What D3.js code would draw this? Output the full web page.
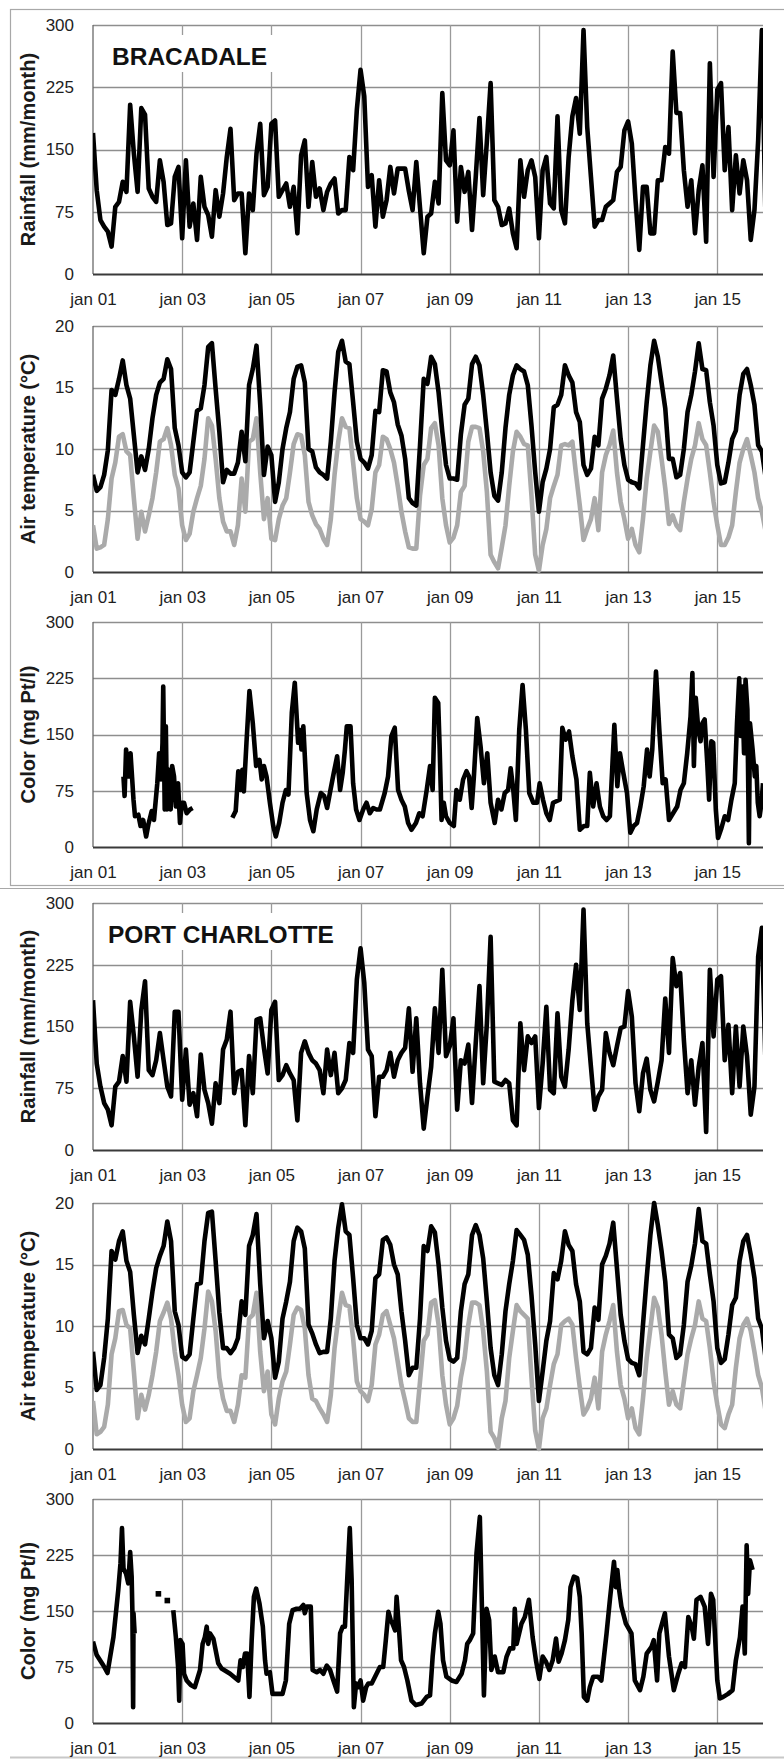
<!DOCTYPE html>
<html><head><meta charset="utf-8">
<script src="https://cdn.jsdelivr.net/npm/d3@7"></script>
<style>
body{margin:0;background:#fff}
svg{display:block}
text{font-family:"Liberation Sans",Arial,Helvetica,sans-serif;fill:#1e1e1e}
</style>
</head><body>
<svg id="chart" width="784" height="1760"></svg>
<script>
// ---------- DATA ----------
// x ticks: month index from jan 2001
const tickMonths = [0, 24, 48, 72, 96, 120, 144, 168];
const tickLabels = ["jan 01", "jan 03", "jan 05", "jan 07", "jan 09", "jan 11", "jan 13", "jan 15"];
const rainTicks = [0, 75, 150, 225, 300];
const tempTicks = [0, 5, 10, 15, 20];
const colorTicks = [0, 75, 150, 225, 300];
const stationNames = ["BRACADALE", "PORT CHARLOTTE"];
const axisTitles = ["Rainfall (mm/month)", "Air temperature (°C)", "Color (mg Pt/l)"];

// Bracadale monthly rainfall (mm/month), jan 2001 ->
const rainBracadale = [
  170,101,65,57,51,33,81,87,111,99,204,145,
  99,200,192,103,93,87,137,111,59,61,117,129,
  43,137,57,85,41,117,81,71,45,101,69,97,
  141,175,89,97,97,25,97,77,145,181,95,105,
  181,185,93,101,109,81,105,49,143,161,81,135,
  93,103,77,99,109,115,73,77,77,141,125,198,
  246,214,105,119,57,113,69,89,129,97,127,127,
  127,100,77,135,80,25,69,73,111,85,218,137,
  131,173,63,129,99,123,53,117,188,95,160,230,
  89,81,59,61,79,49,31,137,93,125,137,117,
  43,125,141,85,79,190,77,61,141,190,212,169,
  294,177,117,57,65,65,81,85,89,123,129,173,
  184,157,89,29,105,105,49,49,113,113,153,145,
  268,194,194,125,81,113,49,101,131,39,254,117,
  222,230,125,177,77,143,97,137,113,41,77,161,
  294,60
];
// Bracadale air temperature, monthly max (black) and min (grey)
const tmaxBracadale = [
  7.9,6.6,6.9,7.9,9.9,14.8,14.4,15.7,17.2,15.2,14.1,11.1,
  8.1,9.4,8.3,10.0,12.5,14.4,15.4,15.7,17.3,16.5,11.7,10.3,
  8.1,7.7,8.1,10.6,13.1,13.3,15.2,18.3,18.6,14.9,11.4,7.3,
  8.3,8.0,8.0,8.9,11.4,9.0,15.2,16.5,18.4,13.6,7.9,10.2,
  9.5,5.7,7.3,10.0,11.7,13.0,15.7,16.7,16.8,15.4,10.0,9.8,
  8.5,8.1,7.9,7.6,10.6,14.6,17.9,18.8,17.1,16.9,13.8,10.6,
  9.2,8.9,8.4,9.5,13.1,13.0,16.4,16.3,14.6,13.8,12.0,11.1,
  9.2,6.0,5.6,5.4,10.3,15.7,15.3,17.5,16.9,14.6,11.4,8.7,
  7.6,7.6,7.5,11.2,13.6,14.1,16.9,17.5,16.8,14.4,11.4,8.1,
  6.2,5.8,8.1,11.7,14.4,16.0,16.8,16.5,16.3,15.2,11.9,8.1,
  4.9,7.3,8.4,10.0,13.4,13.6,14.4,16.8,16.0,15.4,13.0,12.2,
  8.7,7.9,8.4,11.0,10.3,14.1,14.9,16.0,17.6,14.1,10.8,8.7,
  7.5,7.3,7.2,6.8,10.3,13.8,16.8,18.8,17.5,15.4,13.3,9.2,
  9.2,7.7,7.9,10.0,13.0,14.4,16.3,18.6,16.5,16.4,13.8,11.9,
  8.7,7.2,7.3,8.9,10.8,11.5,14.4,16.1,16.5,15.2,13.6,10.3,
  9.8,7.7
];
const tminBracadale = [
  3.8,1.9,2.0,2.2,4.3,7.6,8.9,11.0,11.2,9.8,9.5,6.0,
  2.7,4.9,3.3,4.6,6.0,8.1,10.6,10.8,11.7,10.3,7.9,6.8,
  3.8,2.6,3.1,4.9,6.0,7.0,9.2,12.5,11.9,9.2,6.0,4.1,
  3.3,3.3,2.2,3.8,7.6,4.9,10.6,10.8,12.5,8.1,4.3,6.0,
  2.7,2.6,4.3,5.4,6.0,8.1,10.4,11.2,11.1,9.5,5.7,4.6,
  3.9,3.5,2.7,2.2,4.3,7.9,10.6,12.5,11.8,11.7,8.9,6.0,
  4.3,4.1,3.8,5.1,8.1,8.7,11.0,10.8,10.0,8.9,7.0,4.9,
  3.3,2.0,1.9,1.9,6.2,8.7,9.2,11.7,12.1,10.3,6.0,3.8,
  2.4,2.8,3.8,6.5,7.0,10.6,11.8,11.8,11.7,9.8,6.5,1.4,
  0.8,0.3,2.0,3.8,7.0,9.8,11.4,11.0,10.4,10.3,6.2,1.4,
  0.1,2.2,3.5,6.0,7.0,7.9,10.3,10.4,10.3,10.6,7.9,5.4,
  2.6,3.5,4.3,6.0,3.4,8.1,9.5,10.3,11.5,8.1,5.7,4.3,
  2.7,3.5,2.2,1.6,4.3,7.6,9.8,11.9,11.4,9.2,6.8,3.9,
  4.6,3.8,3.4,5.7,7.6,9.2,10.3,12.1,10.8,10.3,8.1,5.7,
  3.8,2.2,2.2,2.8,3.8,6.5,8.9,10.0,10.8,9.5,8.1,6.0,
  4.9,3.3
];
// Bracadale water colour: sample time (months since jan 2001) and value (mg Pt/l); null = gap
const colorBracadaleMonth = [
  8.2,8.5,8.9,9.5,10.1,10.9,11.3,12.2,12.8,13.5,14.3,14.9,15.8,16.4,17.3,17.8,18.3,18.7,18.9,19.3,19.6,19.9,
  20.4,20.9,21.3,21.8,22.3,22.9,23.4,23.9,24.5,25.2,26.1,26.8,
  32,
  37.5,38.4,39.1,39.7,40.2,40.6,41.3,42.1,43.0,43.9,44.8,45.4,46.0,46.7,47.6,48.5,49.2,50.1,51.0,51.9,52.6,
  53.5,54.3,55.2,55.7,56.1,56.6,57.5,58.4,59.3,60.2,61.3,62.2,63.0,63.9,64.8,65.7,66.5,67.2,67.8,68.3,69.3,
  70.0,70.8,71.7,72.7,73.6,74.5,75.4,76.3,77.2,78.5,79.4,80.3,81.2,82.1,83.0,83.9,84.8,85.7,86.9,87.8,88.7,
  89.8,90.7,91.4,92.0,92.9,93.3,93.8,94.4,95.0,96.0,97.1,97.8,98.7,99.6,100.5,101.2,101.9,102.5,103.4,104.3,
  105.2,106.1,107.0,108.1,109.0,109.9,110.8,111.7,112.4,113.1,113.8,114.7,115.6,116.5,117.4,118.5,119.5,
  120.2,121.1,122.0,122.9,123.8,124.7,125.6,126.3,127.2,128.1,129.0,130.1,131.0,132.1,133.0,133.7,134.6,
  135.5,136.4,137.3,138.2,139.1,140.3,141.1,141.8,142.7,143.7,144.6,145.5,146.4,147.3,148.2,149.1,149.8,
  150.5,151.5,152.4,153.3,154.1,155.0,156.1,157.2,158.1,159.0,159.9,160.8,161.3,161.7,162.2,162.9,163.5,
  164.0,164.6,165.3,165.8,166.4,166.9,167.6,168.2,169.1,170.0,170.9,171.8,172.7,173.3,173.9,174.3,174.7,
  175.2,175.6,176.1,176.5,176.8,177.5,178.1,178.5,178.9,179.4,179.9,180.3
];
const colorBracadaleValue = [
  94,68,130,94,125,63,41,43,28,36,14,30,48,36,85,125,90,139,214,50,161,50,
  103,50,108,94,54,85,32,59,59,45,50,52,
  null,
  39,48,101,76,103,74,139,208,165,108,116,90,108,94,59,28,14,32,59,76,70,
  179,219,139,156,130,161,72,36,21,50,72,68,52,76,99,121,76,99,130,161,161,
  85,50,36,50,59,45,52,50,50,72,94,148,159,76,63,54,32,23,32,45,41,
  76,108,76,199,192,130,36,59,41,32,28,76,63,90,101,94,52,94,172,134,
  85,125,59,32,63,50,72,76,105,76,36,156,216,156,72,59,59,
  85,63,45,36,59,61,63,159,143,154,121,90,23,28,28,99,54,
  85,54,41,36,41,163,81,125,99,72,19,28,32,54,81,130,94,
  130,234,156,85,90,36,45,54,76,85,125,174,232,108,199,156,141,
  165,170,112,63,141,139,50,12,25,41,36,63,85,165,225,148,214,
  125,223,183,5,165,130,94,108,59,41,59,85
];

// Port Charlotte monthly rainfall
const rainPortCharlotte = [
  182,105,77,57,49,30,77,83,114,83,180,138,
  89,170,205,97,91,109,142,109,77,65,168,168,
  61,122,55,69,41,116,73,57,32,81,57,122,
  134,168,69,95,97,30,114,69,158,160,124,93,
  170,180,85,91,103,93,85,36,118,132,118,109,
  105,97,69,122,91,118,69,75,85,130,118,207,
  245,203,122,114,41,89,89,97,118,89,109,118,
  124,172,95,160,81,26,65,101,172,118,219,114,
  126,160,49,109,105,128,57,130,199,81,154,259,
  83,81,79,85,81,36,30,154,97,138,130,138,
  51,105,174,73,69,166,89,77,122,182,225,170,
  292,154,101,49,65,73,142,118,103,126,148,150,
  193,162,81,47,93,111,73,59,83,109,184,118,
  233,199,215,134,69,109,55,101,130,22,219,138,
  207,211,109,152,69,150,77,150,114,43,77,235,
  270,100
];
const tmaxPortCharlotte = [
  7.9,4.8,5.2,7.4,10.6,16.1,15.4,16.9,17.7,15.3,14.4,10.9,
  7.8,9.2,8.5,10.6,12.8,14.7,15.7,16.5,18.5,16.9,11.2,10.1,
  7.5,7.3,7.7,10.6,13.4,13.5,16.9,19.2,19.3,15.3,11.1,8.2,
  8.2,7.8,8.2,9.0,12.0,10.9,16.5,17.4,19.1,13.4,9.0,10.4,
  9.0,5.8,7.1,10.6,12.0,13.6,16.9,18.0,17.7,16.3,10.1,9.4,
  8.5,7.8,7.9,7.9,10.6,15.3,18.0,19.9,17.7,17.4,13.9,10.1,
  9.0,9.0,8.5,9.6,13.9,14.2,17.0,17.2,16.6,15.0,14.2,11.2,
  8.8,6.0,6.6,6.6,10.6,16.5,16.1,18.1,17.6,15.0,11.5,8.8,
  7.3,7.1,7.4,11.2,13.4,14.2,17.4,18.2,17.4,15.5,12.0,8.2,
  6.0,5.2,7.7,11.2,13.4,15.3,17.8,17.4,17.0,15.8,12.5,8.5,
  3.9,6.3,8.8,10.4,14.3,13.8,15.3,17.7,16.6,16.1,13.4,12.0,
  7.9,7.7,8.2,11.5,10.5,15.0,15.7,16.7,18.4,14.7,10.9,8.8,
  7.3,7.0,6.9,6.0,10.1,13.9,17.4,20.0,18.2,16.1,13.6,9.3,
  9.0,7.4,7.7,10.1,13.6,14.9,16.7,19.5,16.9,16.7,14.2,12.0,
  8.2,7.0,7.3,9.3,11.7,12.3,15.3,16.9,17.4,15.8,13.9,10.6,
  9.8,7.4
];
const tminPortCharlotte = [
  3.9,1.2,1.4,1.8,3.6,7.7,9.0,11.2,11.3,10.1,9.8,6.3,
  2.5,4.4,3.2,4.4,6.0,7.9,10.4,11.1,11.9,10.6,7.9,6.0,
  3.6,2.2,2.5,4.7,6.0,7.4,9.8,12.8,12.0,9.6,5.8,4.1,
  3.1,3.1,2.2,3.6,6.0,5.8,10.6,10.9,12.7,7.9,4.7,6.3,
  2.8,2.0,4.1,5.5,6.3,8.5,10.9,11.5,11.3,9.8,6.0,4.1,
  3.9,3.3,2.8,2.2,4.4,8.2,10.6,12.7,11.7,11.6,9.0,5.5,
  4.7,4.4,3.9,5.2,8.5,9.3,10.9,11.2,10.1,9.0,7.1,5.2,
  3.9,2.5,2.2,2.2,5.5,8.8,9.3,11.9,12.1,10.1,6.0,3.6,
  2.0,2.5,3.5,5.8,7.4,10.1,11.9,11.9,11.7,9.6,6.3,1.4,
  0.9,0.1,2.5,3.9,7.4,9.6,11.7,11.2,10.9,10.6,5.8,1.5,
  0.0,2.5,3.3,5.2,6.9,7.7,10.1,10.4,10.6,10.1,7.4,5.0,
  2.8,3.3,4.1,5.8,3.3,7.9,9.3,10.4,11.7,7.9,5.2,4.1,
  2.5,3.3,1.7,1.2,4.1,7.4,9.8,12.3,11.5,9.3,6.3,3.6,
  4.7,3.6,3.3,5.5,7.7,9.0,10.1,12.0,10.6,10.4,8.2,5.5,
  3.6,2.0,1.7,2.8,3.6,6.6,9.0,10.1,10.6,9.6,7.9,6.0,
  5.0,3.1
];
const colorPortCharlotteMonth = [
  0,1,2.8,3.9,5.5,6.8,7.4,7.8,8.2,8.9,9.5,10.0,10.4,10.6,10.8,10.9,11.2,
  16,
  21.6,22.3,22.9,23.2,23.5,24.1,24.5,25.2,26.3,27.4,28.8,29.5,30.1,30.6,31.0,31.5,32.4,33.7,34.6,36.9,
  39.1,39.7,40.3,40.9,41.5,42.1,42.7,43.3,43.9,44.8,45.7,46.3,46.7,47.6,48.3,49.4,51.0,51.9,52.8,53.7,
  54.8,55.7,56.6,57.0,57.5,58.6,59.1,60.2,61.1,62.0,62.9,63.8,64.7,65.7,66.5,67.2,67.8,68.4,69.1,69.6,
  70.2,70.8,71.4,72.0,72.7,73.5,74.1,75.0,76.3,77.2,78.1,78.8,79.5,80.1,80.6,81.3,81.7,82.3,82.9,83.7,
  84.6,85.7,86.9,88.4,89.8,90.7,91.4,92.0,92.9,93.5,94.2,95.1,96.5,97.8,99.2,100.1,100.7,101.4,102.3,
  103.2,104.1,105.2,105.9,106.6,107.2,108.1,109.0,110.4,111.3,112.2,113.1,113.5,114.0,115.3,116.2,117.3,
  118.3,119.2,120.1,121.0,121.9,122.8,123.7,124.6,125.3,126.1,127.0,127.9,128.5,129.4,130.3,131.0,131.5,
  132.1,133.0,133.7,134.6,135.9,136.8,138.2,139.1,140.2,140.7,141.1,141.6,142.2,143.4,144.9,145.8,147.2,
  148.1,149.0,150.3,150.9,151.8,152.4,153.9,155.0,156.3,157.5,158.4,159.3,160.2,161.1,161.7,162.4,163.5,
  164.6,165.5,166.3,166.9,168.0,168.7,169.6,170.9,172.1,173.0,174.1,174.8,175.4,175.9,176.3,176.8,177.5
];
const colorPortCharlotteValue = [
  109,91,77,67,115,178,214,261,207,200,187,229,196,150,21,147,120,
  null,
  151,115,75,30,111,106,66,57,51,48,71,106,115,129,106,120,113,80,73,66,
  57,84,75,93,93,35,111,169,180,160,129,84,66,68,39,39,39,57,133,151,
  153,153,158,147,156,156,71,68,71,66,77,71,57,42,120,129,129,191,261,191,
  21,53,48,57,30,48,53,53,66,75,75,111,149,138,133,124,169,129,84,75,
  57,30,24,26,35,37,89,120,149,133,84,62,57,55,66,84,106,111,120,
  227,276,37,153,138,71,89,68,68,89,100,100,153,106,133,142,165,
  115,84,59,89,82,71,84,113,82,93,111,138,182,196,194,169,120,
  35,30,48,62,62,57,120,165,216,182,205,178,156,133,120,57,44,
  62,93,102,111,57,120,147,89,44,66,80,75,142,129,113,165,169,
  156,106,173,165,57,33,35,39,44,84,115,156,93,238,173,218,205
];
// isolated colour samples (plotted as markers only)
const colorPortCharlotteDotMonth = [17.6, 20.0];
const colorPortCharlotteDotValue = [173, 164];

// ---------- DRAWING ----------
const svg = d3.select("#chart");
const x = d3.scaleLinear().domain([0, 180.3]).range([93, 763]);
const FONT = '"Liberation Sans", Arial, Helvetica, sans-serif';

// frames around the two station blocks
svg.append("rect").attr("x", 10.5).attr("y", 9.5).attr("width", 800).attr("height", 876)
  .attr("fill", "none").attr("stroke", "#a8a8a8").attr("stroke-width", 1.2);
svg.append("line").attr("x1", 0).attr("x2", 784).attr("y1", 888.5).attr("y2", 888.5)
  .attr("stroke", "#a8a8a8").attr("stroke-width", 1.2);
svg.append("line").attr("x1", 10).attr("x2", 784).attr("y1", 1757.5).attr("y2", 1757.5)
  .attr("stroke", "#c8c8c8").attr("stroke-width", 2);

const monthly = arr => arr.map((v, i) => ({ m: i, v }));
const paired = (ms, vs) => ms.map((m, i) => ({ m, v: vs[i] }));

const panels = [
  { top: 25, bottom: 274, max: 300, ticks: rainTicks, title: axisTitles[0],
    series: [{ data: monthly(rainBracadale), color: "#000" }],
    label: stationNames[0], lx: 112, ly: 65 },
  { top: 326, bottom: 572, max: 20, ticks: tempTicks, title: axisTitles[1],
    series: [{ data: monthly(tminBracadale), color: "#aaaaaa" }, { data: monthly(tmaxBracadale), color: "#000" }] },
  { top: 622, bottom: 847, max: 300, ticks: colorTicks, title: axisTitles[2],
    series: [{ data: paired(colorBracadaleMonth, colorBracadaleValue), color: "#000" }] },
  { top: 903, bottom: 1150, max: 300, ticks: rainTicks, title: axisTitles[0],
    series: [{ data: monthly(rainPortCharlotte), color: "#000" }],
    label: stationNames[1], lx: 108, ly: 943 },
  { top: 1203, bottom: 1449, max: 20, ticks: tempTicks, title: axisTitles[1],
    series: [{ data: monthly(tminPortCharlotte), color: "#aaaaaa" }, { data: monthly(tmaxPortCharlotte), color: "#000" }] },
  { top: 1499, bottom: 1723, max: 300, ticks: colorTicks, title: axisTitles[2],
    series: [{ data: paired(colorPortCharlotteMonth, colorPortCharlotteValue), color: "#000" }],
    dots: paired(colorPortCharlotteDotMonth, colorPortCharlotteDotValue) }
];

panels.forEach((p, pi) => {
  const y = d3.scaleLinear().domain([0, p.max]).range([p.bottom, p.top]);
  const g = svg.append("g");

  // horizontal gridlines
  g.selectAll(".hg").data(p.ticks.filter(t => t > 0)).join("line")
    .attr("x1", x(0)).attr("x2", x(180.3))
    .attr("y1", d => Math.round(y(d)) + 0.5).attr("y2", d => Math.round(y(d)) + 0.5)
    .attr("stroke", "#8e8e8e").attr("stroke-width", 1.3);
  // vertical gridlines
  g.selectAll(".vg").data(tickMonths.filter(t => t > 0)).join("line")
    .attr("x1", d => Math.round(x(d)) + 0.5).attr("x2", d => Math.round(x(d)) + 0.5)
    .attr("y1", y(p.max)).attr("y2", y(0))
    .attr("stroke", "#9a9a9a").attr("stroke-width", 1.3);
  // left axis line
  g.append("line").attr("x1", x(0)).attr("x2", x(0)).attr("y1", y(p.max)).attr("y2", y(0))
    .attr("stroke", "#6a6a6a").attr("stroke-width", 1.3);

  // station label with white box
  if (p.label) {
    const t = g.append("text").attr("x", p.lx).attr("y", p.ly)
      .attr("font-size", 24.5).attr("font-weight", "bold").style("fill", "#111").text(p.label);
    const bb = t.node().getBBox();
    g.insert("rect", "text").attr("x", bb.x - 5).attr("y", bb.y - 8)
      .attr("width", bb.width + 15).attr("height", bb.height + 10).attr("fill", "#fff");
  }

  // bottom axis (x)
  const xAxis = d3.axisBottom(x).tickValues(tickMonths)
    .tickFormat((d, i) => tickLabels[i]).tickSize(0).tickPadding(19);
  const gx = g.append("g").attr("transform", `translate(0,${p.bottom})`).call(xAxis);
  gx.select(".domain").remove();
  gx.selectAll("text").attr("font-size", 17).attr("font-family", FONT).style("fill", "#1e1e1e");
  g.append("line").attr("x1", x(0)).attr("x2", x(180.3)).attr("y1", p.bottom + 0.5).attr("y2", p.bottom + 0.5)
    .attr("stroke", "#3a3a3a").attr("stroke-width", 1.8);

  // left axis (y labels)
  const yAxis = d3.axisLeft(y).tickValues(p.ticks).tickFormat(d3.format("d")).tickSize(0).tickPadding(19);
  const gy = g.append("g").attr("transform", `translate(${x(0)},0)`).call(yAxis);
  gy.select(".domain").remove();
  gy.selectAll("text").attr("font-size", 17).attr("font-family", FONT).style("fill", "#1e1e1e");

  // axis title
  const cy = (p.top + p.bottom) / 2;
  g.append("text").attr("transform", `translate(27.5,${cy}) rotate(-90)`)
    .attr("text-anchor", "middle").attr("dominant-baseline", "central")
    .attr("font-size", 20).attr("font-weight", "bold").style("fill", "#1a1a1a").text(p.title);

  // clip
  const cid = "clip" + pi;
  svg.append("clipPath").attr("id", cid).append("rect")
    .attr("x", x(0)).attr("y", p.top - 12).attr("width", x(180.3) - x(0)).attr("height", p.bottom - p.top + 24);
  const dg = g.append("g").attr("clip-path", `url(#${cid})`);

  const line = d3.line().defined(d => d.v != null).x(d => x(d.m)).y(d => y(d.v));
  p.series.forEach(s => {
    dg.append("path").datum(s.data).attr("d", line)
      .attr("fill", "none").attr("stroke", s.color).attr("stroke-width", 4.6)
      .attr("stroke-linejoin", "round").attr("stroke-linecap", "butt");
  });
  if (p.dots) {
    dg.selectAll(".dot").data(p.dots).join("rect")
      .attr("x", d => x(d.m) - 2.8).attr("y", d => y(d.v) - 2.8)
      .attr("width", 5.6).attr("height", 5.6).attr("fill", "#000");
  }
});
</script>
</body></html>
